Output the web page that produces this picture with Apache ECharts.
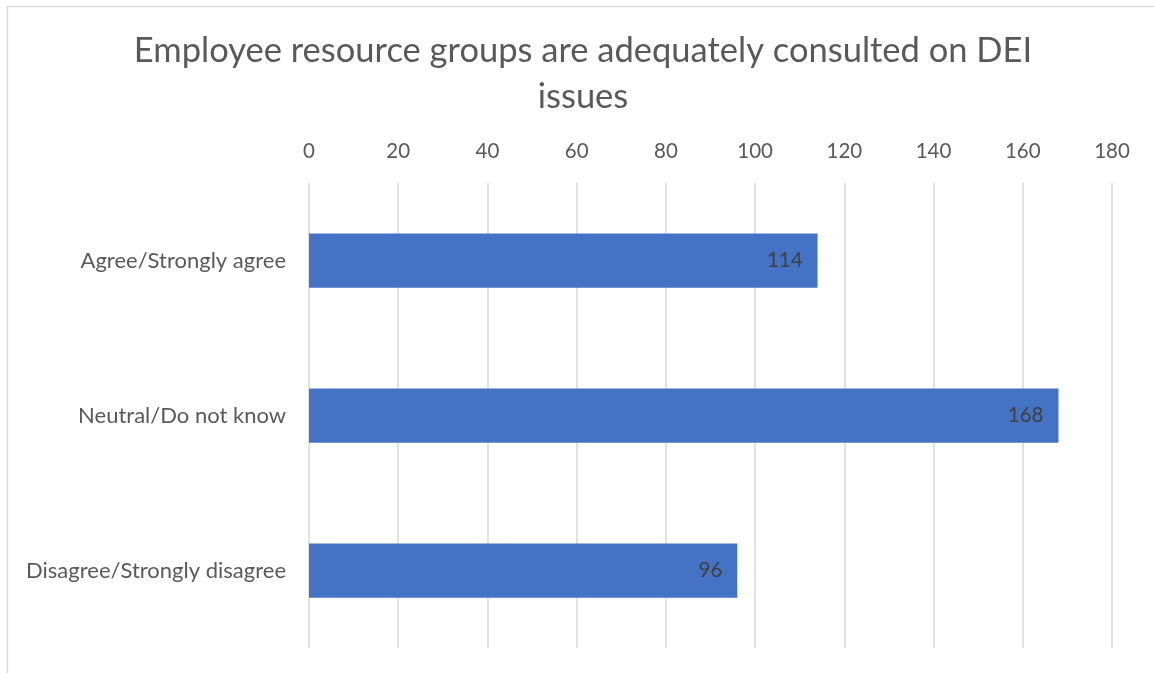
<!DOCTYPE html>
<html>
<head>
<meta charset="utf-8">
<script src="https://cdn.jsdelivr.net/npm/echarts@6/dist/echarts.min.js"></script>
<style>
  html, body { margin: 0; padding: 0; background: #ffffff; }
  #chart { width: 1154px; height: 673px; }
</style>
</head>
<body>
<div id="chart"></div>
<script>
// Survey responses: "Employee resource groups are adequately consulted on DEI issues"
const categories = ['Agree/Strongly agree', 'Neutral/Do not know', 'Disagree/Strongly disagree'];
const responses = [114, 168, 96];
const axisTicks = [0, 20, 40, 60, 80, 100, 120, 140, 160, 180];

const FONT = 'Lato, "Open Sans", sans-serif';
const chart = echarts.init(document.getElementById('chart'), null, { renderer: 'canvas' });

chart.setOption({
  backgroundColor: '#ffffff',
  animation: false,
  title: {
    text: 'Employee resource groups are adequately consulted on DEI\nissues',
    left: 583,
    top: 28,
    textAlign: 'center',
    padding: 0,
    textStyle: {
      fontFamily: FONT,
      fontSize: 34.5,
      fontWeight: 'normal',
      color: '#595959',
      lineHeight: 46
    }
  },
  graphic: [{
    type: 'polyline',
    silent: true,
    shape: { points: [[7.5, 673], [7.5, 6.5], [1154, 6.5]] },
    style: { stroke: '#d9d9d9', lineWidth: 1.5, fill: null }
  }],
  grid: { left: 309, right: 42, top: 183, bottom: 25, containLabel: false },
  xAxis: {
    type: 'value',
    position: 'top',
    min: axisTicks[0],
    max: axisTicks[axisTicks.length - 1],
    interval: axisTicks[1] - axisTicks[0],
    axisLine: { show: false },
    axisTick: { show: false },
    axisLabel: {
      margin: 21,
      fontFamily: FONT,
      fontSize: 20.5,
      color: '#595959'
    },
    splitLine: { show: true, lineStyle: { color: '#d9d9d9', width: 1.5 } }
  },
  yAxis: {
    type: 'category',
    data: categories,
    inverse: true,
    axisLine: { show: false },
    axisTick: { show: false },
    axisLabel: {
      margin: 23,
      fontFamily: FONT,
      fontSize: 22,
      color: '#595959'
    }
  },
  series: [{
    type: 'bar',
    data: responses,
    barWidth: '35%',
    itemStyle: { color: '#4472c4' },
    label: {
      show: true,
      position: 'insideRight',
      distance: 15,
      fontFamily: FONT,
      fontSize: 20.5,
      color: '#404040'
    }
  }]
});
</script>
</body>
</html>
